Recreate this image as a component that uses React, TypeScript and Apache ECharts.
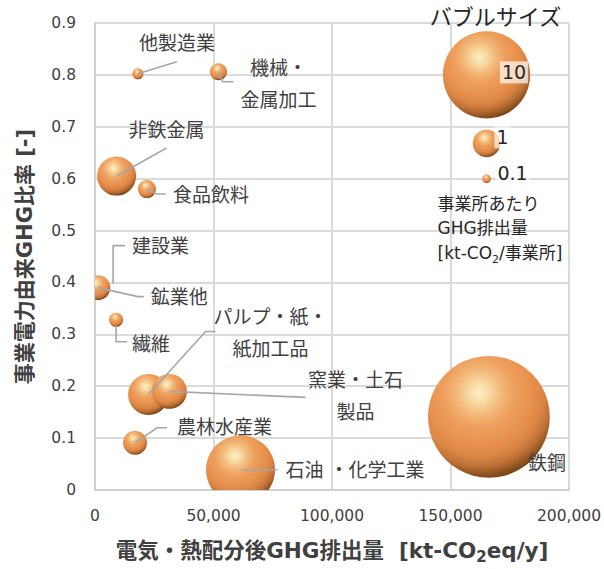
import React, { useEffect, useRef } from "react";
import * as echarts from "echarts";

// Industry sectors: post-allocation GHG emissions vs. share of purchased-power GHG
const sectors = [
  "他製造業",
  "機械・金属加工",
  "非鉄金属",
  "食品飲料",
  "建設業",
  "鉱業他",
  "繊維",
  "パルプ・紙・紙加工品",
  "窯業・土石製品",
  "農林水産業",
  "石油・化学工業",
  "鉄鋼",
];
// Label text as drawn (with line breaks)
const sectorLabels = [
  "他製造業",
  "機械・\n金属加工",
  "非鉄金属",
  "食品飲料",
  "建設業",
  "鉱業他",
  "繊維",
  "パルプ・紙・\n紙加工品",
  "窯業・土石\n製品",
  "農林水産業",
  "石油 ・化学工業",
  "鉄鋼",
];
// 電気・熱配分後GHG排出量 [kt-CO2eq/y]
const emissions = [18100, 52100, 9100, 21900, 3000, 1200, 8900, 22600, 31400, 16900, 61400, 166200];
// 事業電力由来GHG比率 [-]
const powerShare = [0.802, 0.806, 0.605, 0.58, 0.39, 0.39, 0.328, 0.184, 0.19, 0.091, 0.039, 0.141];
// 事業所あたりGHG排出量 [kt-CO2/事業所] (bubble size)
const perSite = [0.16, 0.38, 2.0, 0.43, 0.3, 0.82, 0.26, 2.2, 1.6, 0.76, 6.25, 19.5];

// Bubble-size legend
const legendSizes = [10, 1, 0.1];
const legendLabels = ["10", "1", "0.1"];
const legendX = 165200;
const legendY = [0.8, 0.668, 0.6];
const legendTitle = "バブルサイズ";
const legendNote = "事業所あたり\nGHG排出量\n[kt-CO{sub|2}/事業所]";

// Axis settings
const xMin = 0;
const xMax = 200000;
const xStep = 50000;
const yMin = 0;
const yMax = 0.9;
const yStep = 0.1;
const xTitle = "電気・熱配分後GHG排出量  [kt-CO{sub|2}eq/y]";
const yTitle = "事業電力由来GHG比率 [-]";

// Leader lines and label anchors, in pixels relative to each bubble centre
type Layout = { line?: number[][]; dx: number; dy: number; align: "left" | "center" };
const sectorLayout: Layout[] = [
  { line: [[0, 0], [39, -12]], dx: 39, dy: -31, align: "center" },
  { line: [[0, 0], [4, 10], [15, 10]], dx: 60, dy: 12, align: "center" },
  { line: [[0, 0], [50, -28]], dx: 50, dy: -46, align: "center" },
  { line: [[0, 0], [10, 5], [19, 5]], dx: 26, dy: 6, align: "left" },
  { line: [[11, -4], [11, -42], [23, -42]], dx: 30, dy: -42, align: "left" },
  { line: [[0, 0], [40, 9], [46, 9]], dx: 53, dy: 9, align: "left" },
  { line: [[0, 6], [0, 22], [11, 22]], dx: 16, dy: 24, align: "left" },
  { line: [[0, 0], [57, -63], [67, -63]], dx: 122, dy: -62, align: "center" },
  { line: [[0, 0], [136, 6]], dx: 186, dy: 5, align: "center" },
  { line: [[0, 0], [22, -15], [32, -15]], dx: 42, dy: -16, align: "left" },
  { line: [[0, 0], [37, 0]], dx: 45, dy: 0, align: "left" },
  { dx: 58, dy: 46, align: "center" },
];
const legendLayout = [
  { dx: 27.5, dy: -2.5 },
  { dx: 16, dy: -6 },
  { dx: 26, dy: -6 },
];

const FONT = "'DejaVu Sans', 'Noto Sans CJK JP', sans-serif";
const TEXT_COLOR = "#404040";
const LEADER_COLOR = "#a6a6a6";
const RADIUS_PER_SQRT = 13.8;

const bubbleRadius = (v: number) => RADIUS_PER_SQRT * Math.sqrt(v);

// Shaded sphere: pale highlight upper-left, dark rim lower-right
const sphereFill = () =>
  new echarts.graphic.RadialGradient(0.42, 0.3, 0.8, [
    { offset: 0, color: "#fcefc4" },
    { offset: 0.1, color: "#f8dba6" },
    { offset: 0.22, color: "#f3bb7c" },
    { offset: 0.36, color: "#ee9f5d" },
    { offset: 0.54, color: "#e8914e" },
    { offset: 0.66, color: "#db8544" },
    { offset: 0.76, color: "#bd7036" },
    { offset: 0.85, color: "#8c511d" },
    { offset: 0.93, color: "#603517" },
    { offset: 1, color: "#3a200a" },
  ]);

export default function App() {
  const ref = useRef<HTMLDivElement>(null);

  useEffect(() => {
    if (!ref.current) return;
    const chart = echarts.init(ref.current, undefined, { renderer: "svg" });

    const bubbleData = [
      ...sectors.map((name, i) => ({ name, value: [emissions[i], powerShare[i], perSite[i]] })),
      ...legendSizes.map((s, i) => ({ name: legendLabels[i], value: [legendX, legendY[i], s] })),
    ];

    const sectorLabelData = sectors.map((name, i) => ({ name, value: [emissions[i], powerShare[i]] }));
    const legendLabelData = legendSizes.map((s, i) => ({ name: legendLabels[i], value: [legendX, legendY[i]] }));

    chart.setOption({
      animation: false,
      backgroundColor: "#ffffff",
      grid: { left: 95, right: 35, top: 23, bottom: 79, containLabel: false, outerBoundsMode: "none" },
      xAxis: {
        type: "value",
        min: xMin,
        max: xMax,
        interval: xStep,
        name: xTitle,
        nameLocation: "middle",
        nameGap: 45,
        nameTextStyle: {
          fontFamily: FONT,
          fontSize: 21.5,
          fontWeight: "bold",
          color: TEXT_COLOR,
          lineHeight: 30,
          rich: {
            sub: { fontFamily: FONT, fontSize: 15, fontWeight: "bold", color: TEXT_COLOR, lineHeight: 30, verticalAlign: "bottom" },
          },
        },
        axisLine: { show: true, lineStyle: { color: "#cfcfcf", width: 2 } },
        axisTick: { show: false },
        axisLabel: {
          margin: 18,
          fontFamily: FONT,
          fontSize: 15.5,
          color: TEXT_COLOR,
          formatter: (v: number) => v.toLocaleString("en-US"),
        },
        splitLine: { show: true, lineStyle: { color: "#dadada", width: 2 } },
      },
      yAxis: {
        type: "value",
        min: yMin,
        max: yMax,
        interval: yStep,
        name: yTitle,
        nameLocation: "middle",
        nameRotate: 90,
        nameGap: 60,
        nameTextStyle: { fontFamily: FONT, fontSize: 21, fontWeight: "bold", color: TEXT_COLOR },
        axisLine: { show: true, lineStyle: { color: "#cfcfcf", width: 2 } },
        axisTick: { show: false },
        axisLabel: {
          margin: 19,
          fontFamily: FONT,
          fontSize: 15.5,
          color: TEXT_COLOR,
          formatter: (v: number) => (v === 0 ? "0" : v.toFixed(1)),
        },
        splitLine: { show: true, lineStyle: { color: "#dadada", width: 2 } },
      },
      series: [
        {
          type: "custom",
          name: "bubbles",
          clip: true,
          z: 2,
          encode: { x: 0, y: 1 },
          data: bubbleData,
          renderItem: (params: any, api: any) => {
            const p = api.coord([api.value(0), api.value(1)]);
            return {
              type: "circle",
              shape: { cx: p[0], cy: p[1], r: bubbleRadius(api.value(2)) },
              style: { fill: sphereFill() },
            };
          },
        },
        {
          type: "custom",
          name: "sectorLabels",
          clip: false,
          z: 3,
          encode: { x: 0, y: 1 },
          data: sectorLabelData,
          renderItem: (params: any, api: any) => {
            const i = params.dataIndex;
            const p = api.coord([api.value(0), api.value(1)]);
            const lay = sectorLayout[i];
            const children: any[] = [];
            if (lay.line) {
              children.push({
                type: "polyline",
                shape: { points: lay.line.map((q) => [p[0] + q[0], p[1] + q[1]]) },
                style: { stroke: LEADER_COLOR, lineWidth: 1.6, fill: null },
              });
            }
            children.push({
              type: "text",
              x: p[0] + lay.dx,
              y: p[1] + lay.dy,
              style: {
                text: sectorLabels[i],
                fill: TEXT_COLOR,
                fontFamily: FONT,
                fontSize: 19,
                lineHeight: 32,
                align: lay.align,
                verticalAlign: "middle",
              },
            });
            return { type: "group", children };
          },
        },
        {
          type: "custom",
          name: "legendLabels",
          clip: false,
          z: 3,
          encode: { x: 0, y: 1 },
          data: legendLabelData,
          renderItem: (params: any, api: any) => {
            const i = params.dataIndex;
            const p = api.coord([api.value(0), api.value(1)]);
            const lay = legendLayout[i];
            const children: any[] = [
              {
                type: "text",
                x: p[0] + lay.dx,
                y: p[1] + lay.dy,
                style: {
                  text: legendLabels[i],
                  fill: "#262626",
                  fontFamily: FONT,
                  fontSize: 19,
                  align: "center",
                  verticalAlign: "middle",
                  backgroundColor: "rgba(255,255,255,0.68)",
                  padding: [2, 2, 1, 2],
                },
              },
            ];
            if (i === 0) {
              children.push({
                type: "text",
                x: p[0] + 9,
                y: p[1] - 57,
                style: {
                  text: legendTitle,
                  fill: "#262626",
                  fontFamily: FONT,
                  fontSize: 22,
                  align: "center",
                  verticalAlign: "middle",
                },
              });
            }
            if (i === legendSizes.length - 1) {
              children.push({
                type: "text",
                x: p[0] - 49,
                y: p[1] + 13,
                style: {
                  text: legendNote,
                  fill: "#262626",
                  fontFamily: FONT,
                  fontSize: 17,
                  lineHeight: 24.5,
                  align: "left",
                  verticalAlign: "top",
                  rich: {
                    sub: { fontFamily: FONT, fontSize: 11, fill: "#262626", lineHeight: 24.5, verticalAlign: "bottom" },
                  },
                },
              });
            }
            return { type: "group", children };
          },
        },
      ],
    });

    return () => chart.dispose();
  }, []);

  return (
    <div
      ref={ref}
      style={{ position: "fixed", left: 0, top: 0, width: 604, height: 569 }}
    />
  );
}
